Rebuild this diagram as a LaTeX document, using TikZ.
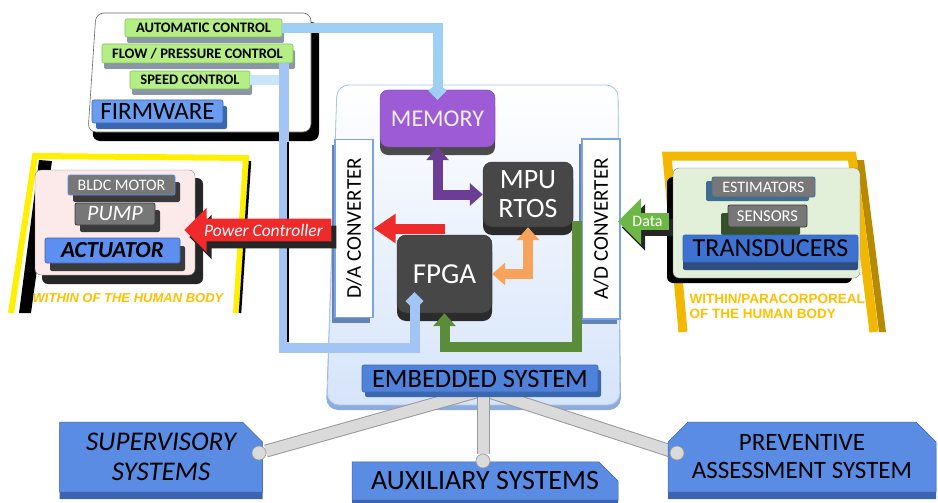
\documentclass[tikz,border=0pt]{standalone}
\usepackage{fontspec}
\usepackage{graphicx}
\setmainfont{Carlito}
\newfontfamily\labelfont{Liberation Sans}
\usetikzlibrary{arrows.meta,shapes.arrows,shapes.misc,shadows,calc}
\pgfdeclarelayer{panel}
\pgfdeclarelayer{links}
\pgfdeclarelayer{front}
\pgfdeclarelayer{top}
\pgfsetlayers{panel,links,main,front,top}

\definecolor{fwgreen}{HTML}{B6EE86}
\definecolor{fwgreenline}{HTML}{86C05A}
\definecolor{fwshade}{HTML}{8A96A8}
\definecolor{fwblue}{HTML}{6A9DF0}
\definecolor{barbluedark}{HTML}{3B66B0}
\definecolor{bargray}{HTML}{777777}
\definecolor{bargraydark}{HTML}{3A3A3A}
\definecolor{actblue}{HTML}{5C8FEF}
\definecolor{chipgray}{HTML}{474747}
\definecolor{chipdark}{HTML}{2B2B2B}
\definecolor{mempurple}{HTML}{9D5CD6}
\definecolor{convblue}{HTML}{7BA3E6}
\definecolor{embblue}{HTML}{4F82DA}
\definecolor{embface}{HTML}{D6E4FA}
\definecolor{embedge}{HTML}{A9C1EA}
\definecolor{embshade}{HTML}{8EABDD}
\definecolor{transblue}{HTML}{3E72D2}
\definecolor{transshade}{HTML}{2F4F80}
\definecolor{estblue}{HTML}{3F6C8F}
\definecolor{sensgreen}{HTML}{35502A}
\definecolor{actpink}{HTML}{FCE9EA}
\definecolor{transgreen}{HTML}{E2F0D9}
\definecolor{frameyellow}{HTML}{FFF000}
\definecolor{framegold}{HTML}{F2B700}
\definecolor{framegolddark}{HTML}{B88A00}
\definecolor{zoneyellow}{HTML}{FFC000}
\definecolor{linkblue}{HTML}{9FCFF5}
\definecolor{fpgablue}{HTML}{A3C5F5}
\definecolor{linkpurple}{HTML}{6C3D94}
\definecolor{linkorange}{HTML}{F8A35C}
\definecolor{linkgreen}{HTML}{5B8C3A}
\definecolor{datagreen}{HTML}{6DB746}
\definecolor{pcred}{HTML}{EE2A2A}
\definecolor{beamface}{HTML}{DADADA}
\definecolor{beamedge}{HTML}{9A9A9A}
\definecolor{sysblue}{HTML}{5A8CE4}
\definecolor{sysbluedark}{HTML}{3D64AE}

\tikzset{
  lift/.style n args={3}{general shadow={fill=#1, shadow xshift=#2, shadow yshift=#3}},
  fwbar/.style={fill=fwgreen, draw=fwgreenline, line width=0.6pt, rounded corners=2pt,
    inner sep=0pt, font=\bfseries\fontsize{14.5}{16}\selectfont, lift={fwshade}{2pt}{-6pt}},
  bluebar/.style={draw=barbluedark, line width=0.6pt, rounded corners=2pt, inner sep=0pt},
  graybar/.style={fill=bargray, line width=0.8pt, rounded corners=2pt, inner sep=0pt, text=white},
  chip/.style={fill=chipgray, draw=chipdark, rounded corners=9pt, inner sep=0pt, text=white,
    align=center, lift={chipdark}{0pt}{-8pt}},
  conv/.style={fill=white, draw=convblue, line width=1.2pt, inner sep=0pt,
    font=\fontsize{21}{21}\selectfont, lift={convblue!80!black}{-3pt}{-5pt}},
  link/.style={line width=10pt},
  fwlink/.style={line width=10pt, -{Turned Square[width=18pt,length=18pt]}},
  dbl/.style={{Triangle[width=22pt,length=13pt]}-{Triangle[width=22pt,length=13pt]}},
  sgl/.style={-{Triangle[width=22pt,length=13pt]}},
  beam/.style={draw=beamedge, line width=1pt, double=beamface, double distance=11pt},
  joint/.style={circle, fill=beamface, draw=beamedge, line width=0.6pt, minimum size=14pt, inner sep=0pt},
  sysbox/.style={chamfered rectangle, chamfered rectangle xsep=10pt, chamfered rectangle ysep=10pt,
    fill=sysblue, draw=sysbluedark, line width=0.5pt, inner sep=0pt, align=center,
    lift={sysbluedark}{0pt}{-7pt}},
  zone/.style={font=\labelfont\bfseries\fontsize{13.5}{15.5}\selectfont, text=zoneyellow},
  leftarrow/.style={single arrow, shape border rotate=180, single arrow head indent=0pt,
    inner xsep=2pt, text=white},
}

\begin{document}
\begin{tikzpicture}[x=1pt,y=-1pt]
\useasboundingbox (0,0) rectangle (938,503);

% ---------- panels ----------
\begin{pgfonlayer}{panel}
  % firmware sheet
  \fill[black, rounded corners=8pt] (104,22) -- (319,22) -- (319,141) -- (92,141) -- cycle;
  \draw[fill=white, draw=black!60, line width=0.6pt, rounded corners=8pt]
    (96,13) -- (311,13) -- (311,132) -- (88,132) -- cycle;
  % actuator zone frame
  \draw[frameyellow, line width=6pt, line join=miter] (11,313) -- (35,156) -- (246,158) -- (236,313);
  \fill[black] (39,160) -- (52,161) -- (31,313) -- (19,313) -- cycle;
  \draw[black, line width=2.5pt] (250,161) -- (240,313);
  \fill[black!85, rounded corners=6pt] (42,178) rectangle (203,284);
  \draw[fill=actpink, draw=black!50, rounded corners=6pt] (35,170) rectangle (195,275);
  % transducer zone frame
  \draw[framegold, line width=9pt, line join=miter] (683,332) -- (667,156) -- (852,156) -- (874,332);
  \fill[framegolddark] (857,160) -- (864,160) -- (886,332) -- (879,332) -- cycle;
  \fill[black, rounded corners=6pt] (667,177) rectangle (852,283);
  \draw[fill=transgreen, draw=black!50, rounded corners=6pt] (673,168) rectangle (860,278);
  % embedded system board
  \fill[embshade, rounded corners=12pt] (337,90) -- (618,90) -- (621,410) -- (326,410) -- cycle;
  \draw[top color=white, bottom color=embface, draw=embedge, line width=0.8pt, rounded corners=12pt]
    (337,85) -- (618,85) -- (620,405) -- (327,405) -- cycle;
\end{pgfonlayer}

% ---------- firmware ----------
\node[fwbar, minimum width=157pt, minimum height=18pt] (auto) at (203.5,28) {AUTOMATIC CONTROL};
\node[fwbar, minimum width=191pt, minimum height=19pt] (flow) at (197.5,53.5) {FLOW / PRESSURE CONTROL};
\node[fwbar, minimum width=120pt, minimum height=18pt] (speed) at (190,80) {SPEED CONTROL};
\node[bluebar, fill=fwblue, lift={barbluedark}{4pt}{-6pt}, minimum width=131pt, minimum height=23pt,
  font=\fontsize{25}{25}\selectfont] (fw) at (157.5,111.5) {FIRMWARE};

% ---------- actuator ----------
\node[graybar, draw=actblue, lift={bargraydark}{5pt}{-7pt}, minimum width=107pt, minimum height=20pt,
  font=\fontsize{16}{16}\selectfont] (bldc) at (121.5,185) {BLDC MOTOR};
\node[graybar, draw=bargraydark, lift={bargraydark}{5pt}{-7pt}, minimum width=80pt, minimum height=22pt,
  font=\itshape\fontsize{22}{22}\selectfont] (pump) at (115,214) {PUMP};
\node[bluebar, fill=actblue, lift={bargraydark}{5pt}{-8pt}, minimum width=135pt, minimum height=25pt,
  font=\bfseries\itshape\fontsize{23}{23}\selectfont] (act) at (112.5,250.5) {ACTUATOR};
\node[zone, font=\labelfont\bfseries\itshape\fontsize{13}{14}\selectfont] (zin) at (128,298) {WITHIN OF THE HUMAN BODY};

% ---------- embedded system ----------
\node[fill=mempurple, draw=mempurple!70!black, rounded corners=8pt, lift={chipdark!85}{0pt}{-8pt},
  minimum width=115pt, minimum height=57pt, font=\fontsize{24}{24}\selectfont, text=gray!12] (mem)
  at (437.5,118.5) {MEMORY};
\node[chip, minimum width=90pt, minimum height=65pt, font=\fontsize{28}{29}\selectfont] (mpu)
  at (528,194.5) {MPU\\RTOS};
\node[chip, minimum width=95pt, minimum height=78pt, font=\fontsize{29}{29}\selectfont] (fpga)
  at (444.5,274) {FPGA};
\node[conv, minimum width=38pt, minimum height=178pt] (da) at (354,228.5) {\rotatebox{90}{D/A CONVERTER}};
\node[conv, minimum width=38pt, minimum height=180pt] (ad) at (601,229) {\rotatebox{90}{A/D CONVERTER}};
\node[bluebar, fill=embblue, lift={barbluedark}{3pt}{-5pt}, minimum width=236pt, minimum height=27pt,
  font=\fontsize{26.5}{26.5}\selectfont] (emb) at (480,378.5) {EMBEDDED SYSTEM};

% ---------- transducers ----------
\node[graybar, draw=estblue, lift={estblue}{-6pt}{-4pt}, minimum width=103pt, minimum height=20pt,
  font=\fontsize{16}{16}\selectfont] (est) at (763.5,187) {ESTIMATORS};
\node[graybar, draw=bargraydark, lift={sensgreen}{-7pt}{-8pt}, minimum width=79pt, minimum height=22pt,
  font=\fontsize{16.5}{16.5}\selectfont] (sens) at (767.5,216) {SENSORS};
\node[bluebar, fill=transblue, lift={transshade}{0pt}{-8pt}, minimum width=175pt, minimum height=27pt,
  font=\fontsize{26}{26}\selectfont] (trans) at (770.5,248.5) {TRANSDUCERS};
\node[zone, anchor=west, align=left] (zpara) at (686,306) {WITHIN/PARACORPOREAL\\OF THE HUMAN BODY};

% ---------- external systems ----------
\node[sysbox, chamfered rectangle corners=north east, minimum width=203pt, minimum height=70pt,
  font=\itshape\fontsize{27}{30}\selectfont] (sup) at (161,457) {SUPERVISORY\\SYSTEMS};
\node[sysbox, chamfered rectangle corners=north east, minimum width=266pt, minimum height=38pt,
  font=\fontsize{28}{28}\selectfont] (aux) at (485,481) {AUXILIARY SYSTEMS};
\node[sysbox, chamfered rectangle corners={north west,north east}, minimum width=268pt, minimum height=70pt,
  font=\fontsize{25}{28}\selectfont] (prev) at (802,457) {PREVENTIVE\\ASSESSMENT SYSTEM};
\node[joint] (j1) at (259,453) {};
\node[joint] (j2) at (483,461) {};
\node[joint] (j3) at (677,453) {};
\coordinate (hub) at (483,390);

% ---------- support beams ----------
\begin{pgfonlayer}{links}
  \draw[beam] (hub) -- (j1);
  \draw[beam] (hub) -- (j3);
  \draw[beam] (hub) -- (j2);
\end{pgfonlayer}

% ---------- data paths ----------
\coordinate (busfoot) at (284,348);
\begin{pgfonlayer}{front}
  \draw[link, linkpurple, dbl] (mem.south) |- (mpu.west);
  \draw[link, linkorange, dbl] (fpga.east) -| (mpu.south);
  \draw[link, pcred, -{Triangle[width=28pt,length=22pt]}] (fpga.north |- da.east) -- (da.east);
  \draw[link, linkgreen, sgl] ($(ad.west)+(-4,-8)$) -- ++(0,126) -| (fpga.south);
  \draw[fwlink, linkblue] (auto.east) -| ([yshift=-10pt]mem.north);
  \draw[link, linkblue!55] (speed.east) -- (speed.east -| busfoot);
  \draw[fwlink, fpgablue] (flow.south east -| busfoot) -- (busfoot) -| ([xshift=-30pt,yshift=21pt]fpga.south);
  \draw[black, line width=2.5pt] ($(busfoot)+(4,-206)$) -- ($(busfoot)+(4,-6)$);
\end{pgfonlayer}

\begin{pgfonlayer}{top}
  \node[leftarrow, fill=pcred, lift={black!85}{5pt}{-7pt}, minimum height=147pt,
    single arrow head extend=11pt, inner ysep=5pt,
    font=\itshape\fontsize{17.5}{17.5}\selectfont] (pc) at (263.5,230) {Power Controller};
  \node[leftarrow, fill=datagreen, lift={black!85}{4pt}{-6pt}, minimum height=51pt,
    single arrow head extend=15pt, inner ysep=3pt,
    font=\fontsize{16}{16}\selectfont] (data) at (647.5,221.5) {Data};
\end{pgfonlayer}
\end{tikzpicture}
\end{document}
